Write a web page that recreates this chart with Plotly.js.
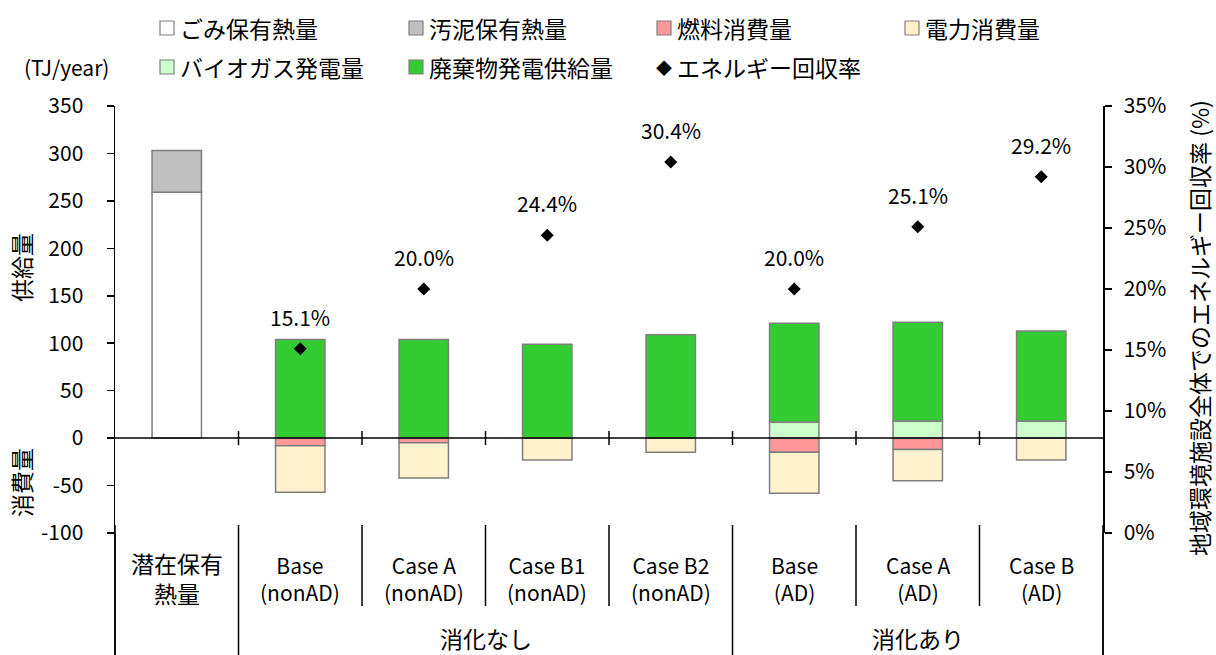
<!DOCTYPE html>
<html>
<head>
<meta charset="utf-8">
<script src="https://cdn.plot.ly/plotly-3.0.1.min.js"></script>
<style>
  html, body { margin: 0; padding: 0; background: #ffffff; }
  #chart { width: 1216px; height: 655px; }
</style>
</head>
<body>
<div id="chart"></div>
<script>
// Category labels (first row) and group labels (second row)
const categories = ['潜在保有<br>熱量', 'Base<br>(nonAD)', 'Case A<br>(nonAD)', 'Case B1<br>(nonAD)',
                    'Case B2<br>(nonAD)', 'Base<br>(AD)', 'Case A<br>(AD)', 'Case B<br>(AD)'];
const groupLabels = ['消化なし', '消化あり'];
const groupFirst = [1, 5];
const groupLast = [4, 7];

// Series values (TJ/year); negative values are consumption
const wasteHeat   = [259, null, null, null, null, null, null, null];
const sludgeHeat  = [44, null, null, null, null, null, null, null];
const fuelUse     = [null, -8, -5, null, null, -15, -12, null];
const powerUse    = [null, -49, -37, -23, -15, -43, -33, -23];
const biogasPower = [null, null, null, null, null, 17, 18, 18];
const wastePower  = [null, 104, 104, 99, 109, 104, 104, 95];
// Energy recovery rate (%)
const recoveryRate = [null, 15.1, 20.0, 24.4, 30.4, 20.0, 25.1, 29.2];

// Axis tick values and labels
const leftTicks = [-100, -50, 0, 50, 100, 150, 200, 250, 300, 350];
const leftTickText = ['-100', '-50', '0', '50', '100', '150', '200', '250', '300', '350'];
const rightTicks = [0, 0.05, 0.10, 0.15, 0.20, 0.25, 0.30, 0.35];
const rightTickText = ['0%', '5%', '10%', '15%', '20%', '25%', '30%', '35%'];

const FONT = '"Noto Sans CJK JP", "Noto Sans", sans-serif';
const FS = 21;      // Latin text and numbers
const FS_JP = 23;   // Japanese text
const W = 1216, H = 655;
const M = { l: 115, r: 113, t: 106, b: 122 };
const PW = W - M.l - M.r, PH = H - M.t - M.b;
// pixel -> paper helpers for decorations outside the plot area
const px2x = px => (px - M.l) / PW;
const py2y = py => (H - M.b - py) / PH;
const nCat = categories.length;
const xIdx = categories.map((_, i) => i);
const bound2x = b => (b + 0.5) / nCat;   // category boundary (data x) -> paper x
const hasJapanese = s => /[\u3040-\u30ff\u4e00-\u9fff]/.test(s);
const txtFont = s => ({ family: FONT, size: hasJapanese(s) ? FS_JP : FS, color: '#000' });

const outline = { color: '#7f7f7f', width: 1.5 };
function barTrace(name, values, color) {
  return {
    type: 'bar', name: name, x: xIdx, y: values,
    marker: { color: color, line: outline },
    hoverinfo: 'name+y'
  };
}

const traces = [
  barTrace('ごみ保有熱量', wasteHeat, '#ffffff'),
  barTrace('汚泥保有熱量', sludgeHeat, '#bfbfbf'),
  barTrace('燃料消費量', fuelUse, '#ff9999'),
  barTrace('電力消費量', powerUse, '#fff2cc'),
  barTrace('バイオガス発電量', biogasPower, '#ccffcc'),
  barTrace('廃棄物発電供給量', wastePower, '#33cc33'),
  {
    type: 'scatter', mode: 'markers', name: 'エネルギー回収率',
    x: xIdx, y: recoveryRate.map(v => v == null ? null : v / 100), yaxis: 'y2',
    marker: { symbol: 'diamond', size: 10, color: '#000000' }
  }
];

const shapes = [];
const annotations = [];

// zero line drawn over the bars
shapes.push({ type: 'line', xref: 'paper', yref: 'y', x0: 0, x1: 1, y0: 0, y1: 0,
  line: { color: '#000', width: 1.5 }, layer: 'above' });
// tick marks across the zero line at category boundaries
for (let b = 0.5; b < nCat - 1; b += 1) {
  shapes.push({ type: 'line', xref: 'x', yref: 'y', ysizemode: 'pixel', yanchor: 0,
    x0: b, x1: b, y0: -7, y1: 7, line: { color: '#000', width: 1.5 }, layer: 'above' });
}
// category separators in the label area
const majorBounds = [-0.5, 0.5, groupLast[0] + 0.5, nCat - 0.5];
for (let b = -0.5; b <= nCat - 0.5; b += 1) {
  const major = majorBounds.includes(b);
  shapes.push({ type: 'line', xref: 'paper', yref: 'paper',
    x0: bound2x(b), x1: bound2x(b), y0: py2y(major ? 655 : 606), y1: py2y(525),
    line: { color: '#000', width: 1.5 } });
}
// category labels
categories.forEach((c, i) => {
  annotations.push({ xref: 'x', yref: 'paper', x: i, y: py2y(578), yanchor: 'middle',
    text: c, showarrow: false, font: txtFont(c) });
});
groupLabels.forEach((g, k) => {
  annotations.push({ xref: 'x', yref: 'paper', x: (groupFirst[k] + groupLast[k]) / 2, y: py2y(638),
    yanchor: 'middle', text: g, showarrow: false, font: txtFont(g) });
});
// recovery rate labels
recoveryRate.forEach((v, i) => {
  if (v == null) return;
  annotations.push({ xref: 'x', yref: 'y2', x: i, y: v / 100, yshift: 32, yanchor: 'middle',
    text: v.toFixed(1) + '%', showarrow: false, font: txtFont('%') });
});
// axis titles
const titles = [
  { text: '供給量', px: 21, py: 268 },
  { text: '消費量', px: 21, py: 483 },
  { text: '地域環境施設全体でのエネルギー回収率 (%)', px: 1199, py: 328 }
];
titles.forEach(t => {
  annotations.push({ xref: 'paper', yref: 'paper', x: px2x(t.px), y: py2y(t.py), xanchor: 'center',
    yanchor: 'middle', textangle: -90, text: t.text, showarrow: false, font: txtFont(t.text) });
});

// legend (two rows, four columns)
const legendNames = ['ごみ保有熱量', '汚泥保有熱量', '燃料消費量', '電力消費量',
                     'バイオガス発電量', '廃棄物発電供給量', 'エネルギー回収率'];
const legendColors = ['#ffffff', '#bfbfbf', '#ff9999', '#fff2cc', '#ccffcc', '#33cc33', null];
const colX = [160, 409, 657, 905];
const rowY = [28, 67];
legendNames.forEach((n, k) => {
  const cx = colX[k % 4], cy = rowY[Math.floor(k / 4)];
  if (legendColors[k]) {
    shapes.push({ type: 'rect', xref: 'paper', yref: 'paper',
      x0: px2x(cx), x1: px2x(cx + 14), y0: py2y(cy + 7), y1: py2y(cy - 7),
      fillcolor: legendColors[k], line: { color: '#7f7f7f', width: 1.2 } });
  } else {
    annotations.push({ xref: 'paper', yref: 'paper', x: px2x(cx + 7), y: py2y(cy), xanchor: 'center',
      yanchor: 'middle', text: '◆', showarrow: false, font: { family: FONT, size: 16, color: '#000' } });
  }
  annotations.push({ xref: 'paper', yref: 'paper', x: px2x(cx + 18), y: py2y(cy), xanchor: 'left',
    yanchor: 'middle', text: n, showarrow: false, font: txtFont(n) });
});
annotations.push({ xref: 'paper', yref: 'paper', x: px2x(66), y: py2y(67), xanchor: 'center',
  yanchor: 'middle', text: '(TJ/year)', showarrow: false, font: txtFont('(TJ/year)') });

// left and right axis lines extended through the label area
[0, 1].forEach(xp => {
  shapes.push({ type: 'line', xref: 'paper', yref: 'paper', x0: xp, x1: xp, y0: py2y(655), y1: 0,
    line: { color: '#000', width: 1.5 } });
});

const layout = {
  width: W, height: H,
  margin: M,
  paper_bgcolor: '#ffffff', plot_bgcolor: '#ffffff',
  showlegend: false,
  barmode: 'relative',
  bargap: 0.6,
  font: { family: FONT, size: FS, color: '#000' },
  xaxis: { range: [-0.5, nCat - 0.5], showticklabels: false, ticks: '', showline: false,
    showgrid: false, zeroline: false, fixedrange: true },
  yaxis: { range: [-100, 350], tickvals: leftTicks, ticktext: leftTickText, ticks: 'outside',
    ticklen: 7, tickwidth: 1.5, tickcolor: '#000', showline: true, linecolor: '#000', linewidth: 1.5,
    showgrid: false, zeroline: false, ticklabelstandoff: 19,
    tickfont: { family: FONT, size: FS, color: '#000' } },
  yaxis2: { range: [0, 0.35], tickvals: rightTicks, ticktext: rightTickText, overlaying: 'y',
    side: 'right', ticks: 'outside', ticklen: 7, tickwidth: 1.5, tickcolor: '#000', showline: true,
    linecolor: '#000', linewidth: 1.5, showgrid: false, zeroline: false, ticklabelstandoff: 8,
    tickfont: { family: FONT, size: FS, color: '#000' } },
  shapes: shapes,
  annotations: annotations
};

Plotly.newPlot('chart', traces, layout, { displayModeBar: false, staticPlot: true });
</script>
</body>
</html>
